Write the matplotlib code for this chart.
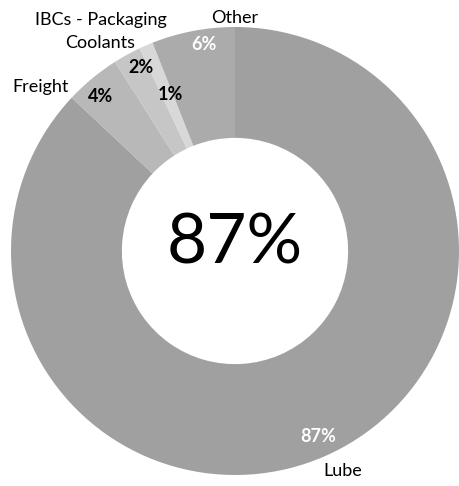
import matplotlib
matplotlib.use('Agg')
import matplotlib.pyplot as plt

plt.rcParams['font.family'] = ['Lato', 'DejaVu Sans']

categories = ['Lube', 'Freight', 'IBCs - Packaging', 'Coolants', 'Other']
shares = [87, 4, 2, 1, 6]
pct_labels = ['87%', '4%', '2%', '1%', '6%']
center_label = '87%'

colors = ['#a0a0a0', '#b8b8b8', '#c6c6c6', '#d8d8d8', '#ababab']
pct_colors = ['white', 'black', 'black', 'black', 'white']

fig = plt.figure(figsize=(4.59, 4.86), dpi=100)
ax = fig.add_axes([11 / 459, 11 / 486, 448 / 459, 448 / 486])

wedges, texts, autotexts = ax.pie(
    shares, labels=categories, colors=colors, startangle=90, counterclock=False,
    radius=1.0, wedgeprops=dict(width=0.495, edgecolor='none'),
    autopct=lambda p: '', pctdistance=0.9, labeldistance=1.1)

# label placement (data coords, radius = 1)
name_pos = [(0.48, -0.98), (-0.87, 0.73), (-0.60, 1.03), (-0.60, 0.93), (0.0, 1.04)]
pct_pos = [(0.37, -0.83), (-0.60, 0.69), (-0.42, 0.82), (-0.29, 0.70), (-0.14, 0.92)]

for t, pos in zip(texts, name_pos):
    t.set_position(pos)
    t.set_ha('center')
    t.set_va('center')
    t.set_fontsize(13)
    t.set_color('black')

for t, lab, pos, c in zip(autotexts, pct_labels, pct_pos, pct_colors):
    t.set_text(lab)
    t.set_position(pos)
    t.set_ha('center')
    t.set_va('center')
    t.set_fontsize(13)
    t.set_fontweight('bold')
    t.set_color(c)

ax.text(0, 0.03, center_label, ha='center', va='center', fontsize=50, color='black')

ax.set_xlim(-1, 1)
ax.set_ylim(-1, 1)
ax.set_aspect('equal')
ax.axis('off')

fig.savefig('out.png', dpi=100)
